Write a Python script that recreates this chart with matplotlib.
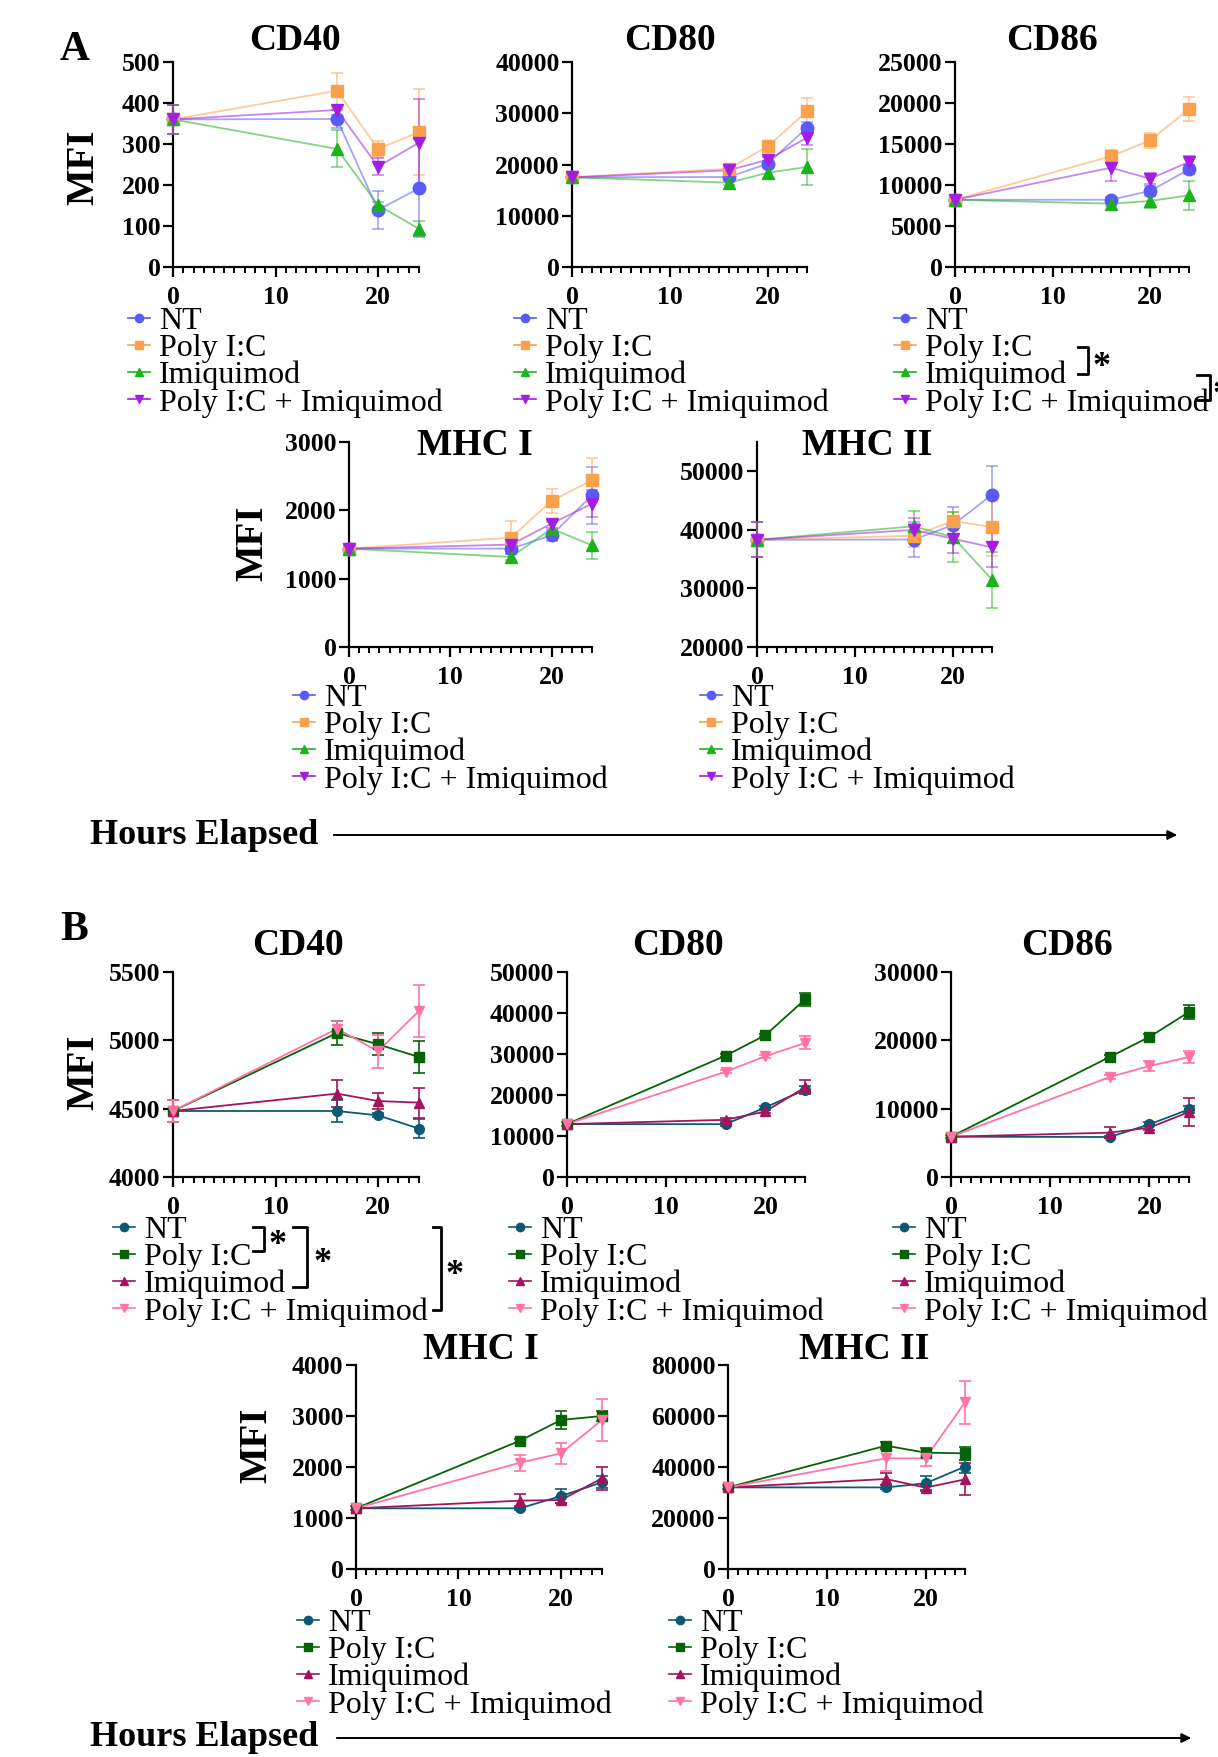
import matplotlib
matplotlib.use("Agg")
import matplotlib.pyplot as plt
from matplotlib.lines import Line2D
from matplotlib.patches import FancyArrowPatch
from matplotlib.ticker import MultipleLocator

plt.rcParams['font.family'] = ['Liberation Serif', 'DejaVu Serif']

W, H = 1218, 1757

hours = [0, 16, 20, 24]
groups = ["NT", "Poly I:C", "Imiquimod", "Poly I:C + Imiquimod"]
markers = ["o", "s", "^", "v"]
colors_a = ["#5a5af8", "#f9a14c", "#1cb21c", "#a41de0"]
colors_b = ["#0c5a72", "#066206", "#a3145c", "#ff74a4"]

# panel A (means, errors), order: NT, Poly I:C, Imiquimod, combo
a_cd40 = [[360, 361, 139, 192], [360, 430, 288, 329], [360, 288, 151, 93], [360, 383, 245, 303]]
a_cd40_err = [[35, 23, 47, 120], [35, 42, 20, 105], [35, 45, 8, 18], [35, 12, 20, 107]]
a_cd80 = [[17500, 17560, 20160, 27190], [17500, 19190, 23545, 30370],
          [17500, 16455, 18400, 19510], [17500, 18860, 20940, 25235]]
a_cd80_err = [[400, 500, 600, 1200], [400, 1000, 600, 2700], [400, 500, 1000, 3500], [400, 500, 600, 1500]]
a_cd86 = [[8200, 8200, 9270, 11900], [8200, 13500, 15450, 19230],
          [8200, 7720, 8050, 8740], [8200, 12110, 10770, 12800]]
a_cd86_err = [[300, 300, 600, 500], [300, 800, 900, 1450], [300, 300, 800, 1800], [300, 1600, 700, 700]]
a_mhc1 = [[1440, 1440, 1634, 2220], [1440, 1600, 2137, 2439],
          [1440, 1317, 1732, 1488], [1440, 1498, 1805, 2098]]
a_mhc1_err = [[40, 40, 80, 420], [40, 240, 180, 320], [40, 40, 90, 200], [40, 40, 60, 200]]
a_mhc2 = [[38300, 38350, 40800, 46000], [38300, 39000, 41500, 40500],
          [38300, 40600, 38800, 31500], [38300, 40000, 38500, 37000]]
a_mhc2_err = [[3000, 3000, 3100, 4900], [3000, 2000, 1500, 5000], [3000, 2600, 4300, 4800], [3000, 2000, 2500, 3300]]

# panel B
b_cd40 = [[4483, 4483, 4451, 4354], [4483, 5054, 4971, 4878],
          [4483, 4610, 4556, 4544], [4483, 5085, 4920, 5215]]
b_cd40_err = [[80, 80, 15, 70], [80, 90, 80, 115], [80, 100, 60, 110], [80, 60, 120, 190]]
b_cd80 = [[12900, 12890, 16970, 21290], [12900, 29600, 34580, 43300],
          [12900, 13950, 15990, 21860], [12900, 25690, 29445, 32700]]
b_cd80_err = [[400, 400, 400, 800], [400, 400, 400, 1500], [400, 400, 400, 1700], [400, 400, 400, 1600]]
b_cd86 = [[5900, 5850, 7700, 9900], [5900, 17560, 20490, 24150],
          [5900, 6490, 7220, 9510], [5900, 14630, 16240, 17560]]
b_cd86_err = [[200, 200, 300, 500], [200, 300, 400, 1000], [200, 800, 300, 2000], [200, 300, 800, 900]]
b_mhc1 = [[1190, 1190, 1431, 1700], [1190, 2516, 2922, 3000],
          [1190, 1340, 1353, 1778], [1190, 2085, 2268, 2922]]
b_mhc1_err = [[40, 40, 130, 120], [40, 40, 170, 100], [40, 130, 60, 220], [40, 160, 200, 420]]
b_mhc2 = [[32000, 32000, 33600, 40130], [32000, 48370, 45620, 45360],
          [32000, 35300, 31900, 35160], [32000, 43400, 43400, 65360]]
b_mhc2_err = [[800, 800, 3000, 2500], [800, 1500, 2000, 2500], [800, 2500, 1000, 6300], [800, 5000, 3000, 8400]]

fig = plt.figure(figsize=(W / 100, H / 100), dpi=100)


def fx(x):
    return x / W


def fy(y):
    return 1 - y / H


def make_ax(x0, y0, x1, y1):
    return fig.add_axes([fx(x0), fy(y1), (x1 - x0) / W, (y1 - y0) / H])


def panel(box, means, errs, colors, ylim, ystep, title, title_xy, leg_xy, ms, faded):
    ax = make_ax(*box)
    for i in range(4):
        c = colors[i]
        a = 0.55 if faded else 1.0
        eb = ax.errorbar(hours, means[i], yerr=errs[i], fmt="none", ecolor=c, alpha=a,
                         elinewidth=1.2, capsize=4.5, capthick=1.2, zorder=3)
        for art in list(eb.lines[1]) + list(eb.lines[2]):
            art.set_clip_on(False)
        ln, = ax.plot(hours, means[i], color=c, lw=1.3, alpha=a, zorder=3)
        ln.set_clip_on(False)
        mk, = ax.plot(hours, means[i], ls="none", marker=markers[i], ms=ms, color=c, zorder=4)
        mk.set_clip_on(False)
    ax.set_xlim(0, 24)
    ax.set_ylim(*ylim)
    ax.xaxis.set_major_locator(MultipleLocator(10))
    ax.xaxis.set_minor_locator(MultipleLocator(1))
    ax.yaxis.set_major_locator(MultipleLocator(ystep))
    for s in ["top", "right"]:
        ax.spines[s].set_visible(False)
    for s in ["left", "bottom"]:
        ax.spines[s].set_linewidth(1.6)
    ax.tick_params(axis="both", which="major", length=7, width=1.6, labelsize=18.5, pad=2)
    ax.tick_params(axis="x", which="major", pad=7)
    ax.tick_params(axis="x", which="minor", length=4.5, width=1.4)
    for lab in ax.get_xticklabels() + ax.get_yticklabels():
        lab.set_fontweight("bold")
    fig.text(fx(title_xy[0]), fy(title_xy[1]), title, ha="center", va="baseline",
             fontsize=27, fontweight="bold")
    handles = [Line2D([], [], color=colors[i], marker=markers[i], ms=6, lw=1.2) for i in range(4)]
    ax.legend(handles, groups, loc="upper left", bbox_to_anchor=(fx(leg_xy[0]), fy(leg_xy[1] - 11)),
              bbox_transform=fig.transFigure, frameon=False, borderpad=0, borderaxespad=0,
              handlelength=0.7, handletextpad=0.28, labelspacing=-0.075, fontsize=23)
    return ax


# panel A
panel((173, 62, 419, 267), a_cd40, a_cd40_err, colors_a, (0, 500), 100, "CD40", (295, 50), (128, 318), 9, True)
panel((572, 62, 807, 267), a_cd80, a_cd80_err, colors_a, (0, 40000), 10000, "CD80", (670, 50), (514, 318), 9, True)
panel((955, 62, 1189, 267), a_cd86, a_cd86_err, colors_a, (0, 25000), 5000, "CD86", (1052, 50), (894, 318), 9, True)
panel((349, 442, 592, 647), a_mhc1, a_mhc1_err, colors_a, (0, 3000), 1000, "MHC I", (475, 455), (293, 695), 9, True)
ax = panel((757, 442, 992, 647), a_mhc2, a_mhc2_err, colors_a, (20000, 55000), 10000, "MHC II", (867, 455), (700, 695), 9, True)
ax.set_yticks([20000, 30000, 40000, 50000])
for lab in ax.get_yticklabels():
    lab.set_fontweight("bold")

# panel B
panel((173, 972, 419, 1177), b_cd40, b_cd40_err, colors_b, (4000, 5500), 500, "CD40", (298, 955), (113, 1227), 7, False)
panel((567, 972, 805, 1177), b_cd80, b_cd80_err, colors_b, (0, 50000), 10000, "CD80", (678, 955), (509, 1227), 7, False)
panel((951, 972, 1189, 1177), b_cd86, b_cd86_err, colors_b, (0, 30000), 10000, "CD86", (1067, 955), (893, 1227), 7, False)
panel((356, 1365, 602, 1569), b_mhc1, b_mhc1_err, colors_b, (0, 4000), 1000, "MHC I", (481, 1359), (297, 1620), 7, False)
panel((728, 1365, 965, 1569), b_mhc2, b_mhc2_err, colors_b, (0, 80000), 20000, "MHC II", (864, 1359), (669, 1620), 7, False)

# y labels
for x, y in [(84, 167), (253, 543), (84, 1072), (257, 1445)]:
    fig.text(fx(x), fy(y), "MFI", rotation=90, ha="center", va="center", fontsize=28, fontweight="bold")

# panel letters
fig.text(fx(60), fy(60), "A", fontsize=30, fontweight="bold", ha="left", va="baseline")
fig.text(fx(60), fy(940), "B", fontsize=30, fontweight="bold", ha="left", va="baseline")

# hours elapsed + arrows
for ty, x0, x1 in [(835, 331, 1180), (1738, 334, 1194)]:
    fig.text(fx(90), fy(ty), "Hours Elapsed", fontsize=26, fontweight="bold", ha="left", va="center")
    fig.add_artist(FancyArrowPatch((fx(x0), fy(ty)), (fx(x1), fy(ty)), transform=fig.transFigure,
                                   arrowstyle="-|>", mutation_scale=14, lw=1.4, color="black"))


def bracket(x0, x1, y0, y1, sx, sy):
    fig.add_artist(Line2D([fx(x0), fx(x1), fx(x1), fx(x0)], [fy(y0), fy(y0), fy(y1), fy(y1)],
                          transform=fig.transFigure, color="black", lw=2))
    fig.text(fx(sx), fy(sy), "*", fontsize=26, fontweight="bold", ha="center", va="center")


# significance marks
bracket(1078, 1088, 347, 374, 1102, 368)
bracket(1197, 1210, 375, 400, 1222, 395)
bracket(253, 264, 1227, 1251, 278, 1245)
bracket(293, 307, 1227, 1287, 323, 1263)
bracket(433, 441, 1227, 1310, 455, 1275)

fig.savefig("out.png", dpi=100)
